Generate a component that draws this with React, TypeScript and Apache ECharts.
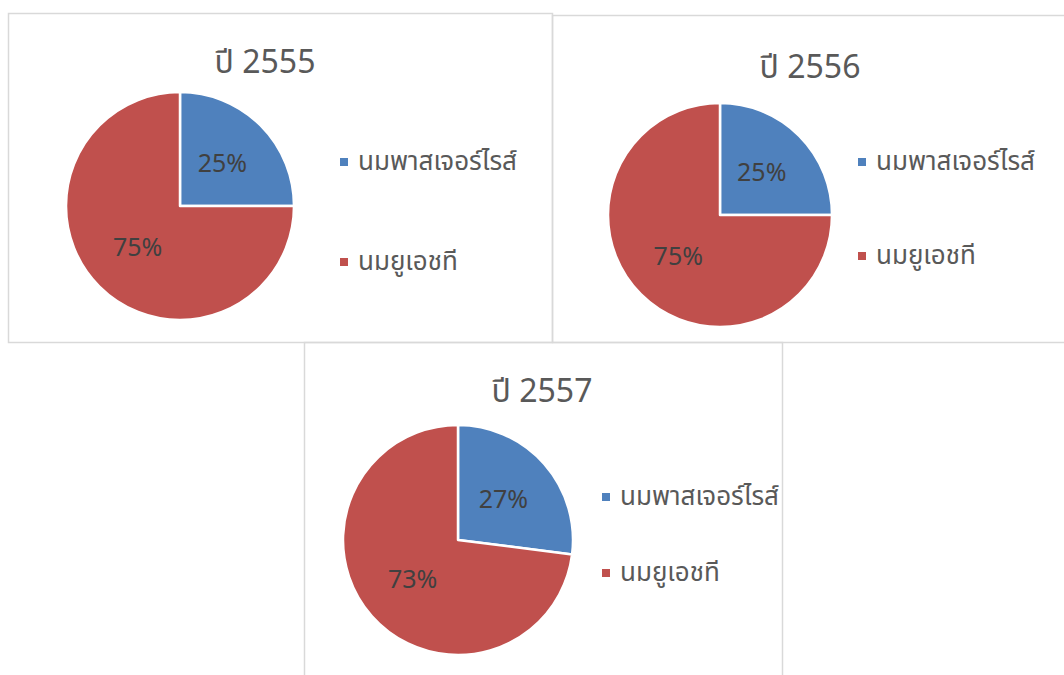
import React, { useEffect, useRef } from "react";
import * as echarts from "echarts";

const categories = ["นมพาสเจอร์ไรส์", "นมยูเอชที"];
const years = ["ปี 2555", "ปี 2556", "ปี 2557"];
const values2555 = [25, 75];
const values2556 = [25, 75];
const values2557 = [27, 73];
const colors = ["#4F81BD", "#C0504D"];

const FONT = "'Segoe UI', 'Noto Sans Thai', 'Leelawadee UI', Tahoma, 'Noto Sans', 'DejaVu Sans', sans-serif";

const panels = [
  { values: values2555, title: years[0], box: [8, 13, 544, 329], center: [180, 206], r: 114, titlePos: [265, 63], legend: [338, 147], gap: 70 },
  { values: values2556, title: years[1], box: [552, 15, 530, 327], center: [720, 215], r: 112, titlePos: [810, 68], legend: [856, 147], gap: 64 },
  { values: values2557, title: years[2], box: [304, 342, 478, 350], center: [458, 540], r: 115, titlePos: [542, 392], legend: [600, 482], gap: 46 },
];

export default function App() {
  const ref = useRef<HTMLDivElement>(null);
  useEffect(() => {
    if (!ref.current) return;
    const chart = echarts.init(ref.current, undefined, { renderer: "svg" });
    const graphic: any[] = [];
    panels.forEach((p) => {
      graphic.push({
        type: "rect",
        shape: { x: p.box[0] + 0.5, y: p.box[1] + 0.5, width: p.box[2], height: p.box[3] },
        style: { fill: "none", stroke: "#D9D9D9", lineWidth: 1.5 },
        z: 0,
      });
      graphic.push({
        type: "text",
        x: p.titlePos[0],
        y: p.titlePos[1],
        style: {
          text: p.title,
          fontSize: 32,
          fontFamily: FONT,
          fill: "#595959",
          textAlign: "center",
          textVerticalAlign: "middle",
        },
        z: 10,
      });
    });
    const option: any = {
      animation: false,
      color: colors,
      graphic,
      legend: panels.map((p) => ({
        data: categories,
        orient: "vertical",
        left: p.legend[0],
        top: p.legend[1],
        icon: "rect",
        itemWidth: 10,
        itemHeight: 10,
        itemGap: p.gap,
        padding: 0,
        selectedMode: false,
        textStyle: { fontSize: 26, lineHeight: 30, color: "#595959", fontFamily: FONT, padding: [0, 0, 0, 4] },
      })),
      series: panels.map((p, i) => ({
        type: "pie",
        name: years[i],
        center: p.center,
        radius: p.r,
        startAngle: 90,
        clockwise: true,
        silent: true,
        data: categories.map((c, j) => ({ name: c, value: p.values[j] })),
        itemStyle: { borderColor: "#FFFFFF", borderWidth: 2.5 },
        label: {
          show: true,
          position: "inside",
          formatter: (params: any) => `${params.value}%`,
          fontSize: 25,
          color: "#404040",
          fontFamily: FONT,
        },
        labelLine: { show: false },
        emphasis: { disabled: true },
      })),
    };
    chart.setOption(option);
    return () => chart.dispose();
  }, []);
  return (
    <div
      ref={ref}
      style={{ position: "absolute", left: 0, top: 0, width: 1064, height: 675, background: "#FFFFFF" }}
    />
  );
}
